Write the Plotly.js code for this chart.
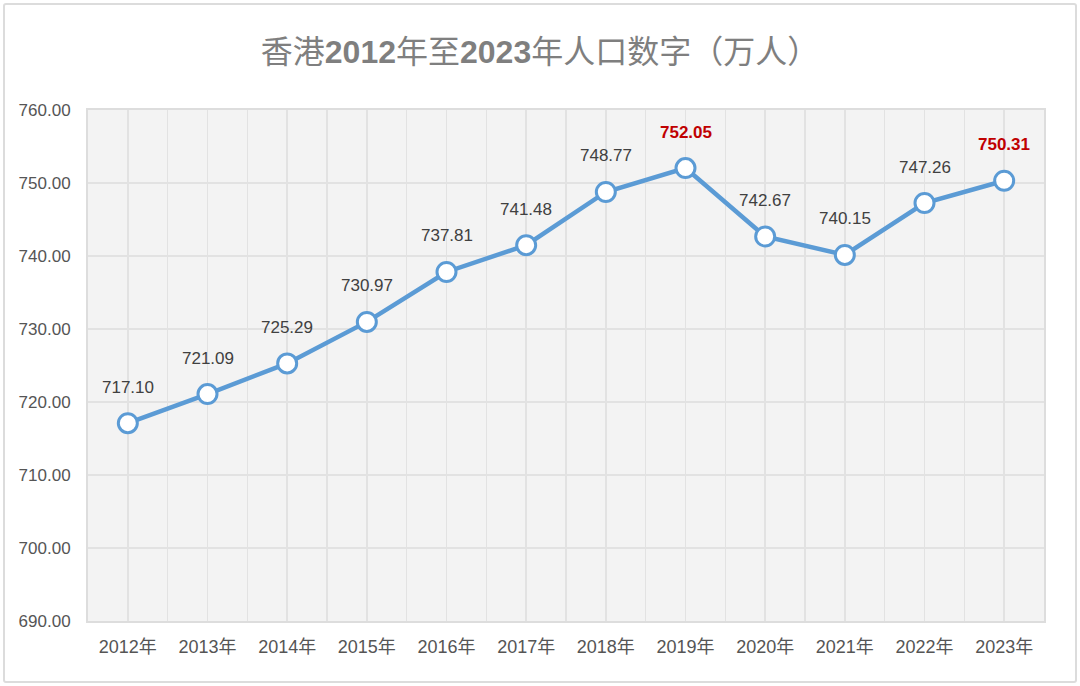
<!DOCTYPE html>
<html>
<head>
<meta charset="utf-8">
<script src="https://cdn.plot.ly/plotly-3.0.1.min.js"></script>
<style>
  html, body { margin: 0; padding: 0; background: #fff; }
  #wrap { position: relative; width: 1080px; height: 686px; }
  #chart { width: 1080px; height: 686px; }
  #frame {
    position: absolute; left: 3px; top: 3px; width: 1070px; height: 676px;
    border: 2px solid #dcdcdc; border-radius: 3px; pointer-events: none;
  }
</style>
</head>
<body>
<div id="wrap">
  <div id="chart"></div>
  <div id="frame"></div>
</div>
<script>
// 香港人口（万人）
const years = ['2012年', '2013年', '2014年', '2015年', '2016年', '2017年',
               '2018年', '2019年', '2020年', '2021年', '2022年', '2023年'];
const population = [717.10, 721.09, 725.29, 730.97, 737.81, 741.48,
                    748.77, 752.05, 742.67, 740.15, 747.26, 750.31];
const highlighted = ['2019年', '2023年'];
const yTicks = [690, 700, 710, 720, 730, 740, 750, 760];

const idx = years.map((_, i) => i);
const blue = '#5b9bd5';

const trace = {
    x: idx,
    y: population,
    type: 'scatter',
    mode: 'lines+markers',
    line: { color: blue, width: 4.5 },
    marker: { size: 19, color: '#ffffff', line: { color: blue, width: 3 } },
    hoverinfo: 'skip'
};

// value labels above each point
const labels = years.map((yr, i) => {
    const hot = highlighted.includes(yr);
    return {
        x: i,
        y: population[i],
        text: hot ? '<b>' + population[i].toFixed(2) + '</b>' : population[i].toFixed(2),
        showarrow: false,
        yshift: 36,
        font: { size: 17, color: hot ? '#c00000' : '#404040', family: 'Liberation Sans, Arial, sans-serif' }
    };
});

const layout = {
    width: 1080,
    height: 686,
    margin: { l: 88, r: 36, t: 110, b: 65 },
    paper_bgcolor: '#ffffff',
    plot_bgcolor: '#f3f3f3',
    showlegend: false,
    font: { family: 'Liberation Sans, "Noto Sans CJK SC", sans-serif', color: '#555555', size: 16 },
    title: {
        text: '香港<b>2012</b>年至<b>2023</b>年人口数字（万人）',
        font: { size: 32, color: '#7f7f7f', family: 'Liberation Sans, "Noto Sans CJK SC", sans-serif' },
        x: 0.5, xanchor: 'center',
        y: 0.925, yanchor: 'middle'
    },
    xaxis: {
        range: [-0.5, years.length - 0.5],
        tickmode: 'array',
        tickvals: idx,
        ticktext: years,
        showgrid: true,
        gridcolor: '#e2e2e2',
        gridwidth: 1.5,
        minor: { dtick: 0.5, tick0: -0.5, showgrid: true, gridcolor: '#e2e2e2', gridwidth: 1.5 },
        zeroline: false,
        showline: true,
        linecolor: '#dddddd',
        linewidth: 2,
        mirror: true,
        ticks: '',
        ticklabelstandoff: 8,
        tickfont: { size: 18, color: '#555555', family: 'Liberation Sans, "Noto Sans CJK SC", sans-serif' },
        fixedrange: true
    },
    yaxis: {
        range: [690, 760],
        tickmode: 'array',
        tickvals: yTicks,
        ticktext: yTicks.map(v => v.toFixed(2)),
        showgrid: true,
        gridcolor: '#e2e2e2',
        gridwidth: 1.5,
        zeroline: false,
        showline: true,
        linecolor: '#dddddd',
        linewidth: 2,
        mirror: true,
        ticks: '',
        ticklabelstandoff: 12,
        tickfont: { size: 17, color: '#555555', family: 'Liberation Sans, sans-serif' },
        fixedrange: true
    },
    annotations: labels
};

document.addEventListener('DOMContentLoaded', () => {
    Plotly.newPlot('chart', [trace], layout, { displayModeBar: false, staticPlot: true });
});
</script>
</body>
</html>
